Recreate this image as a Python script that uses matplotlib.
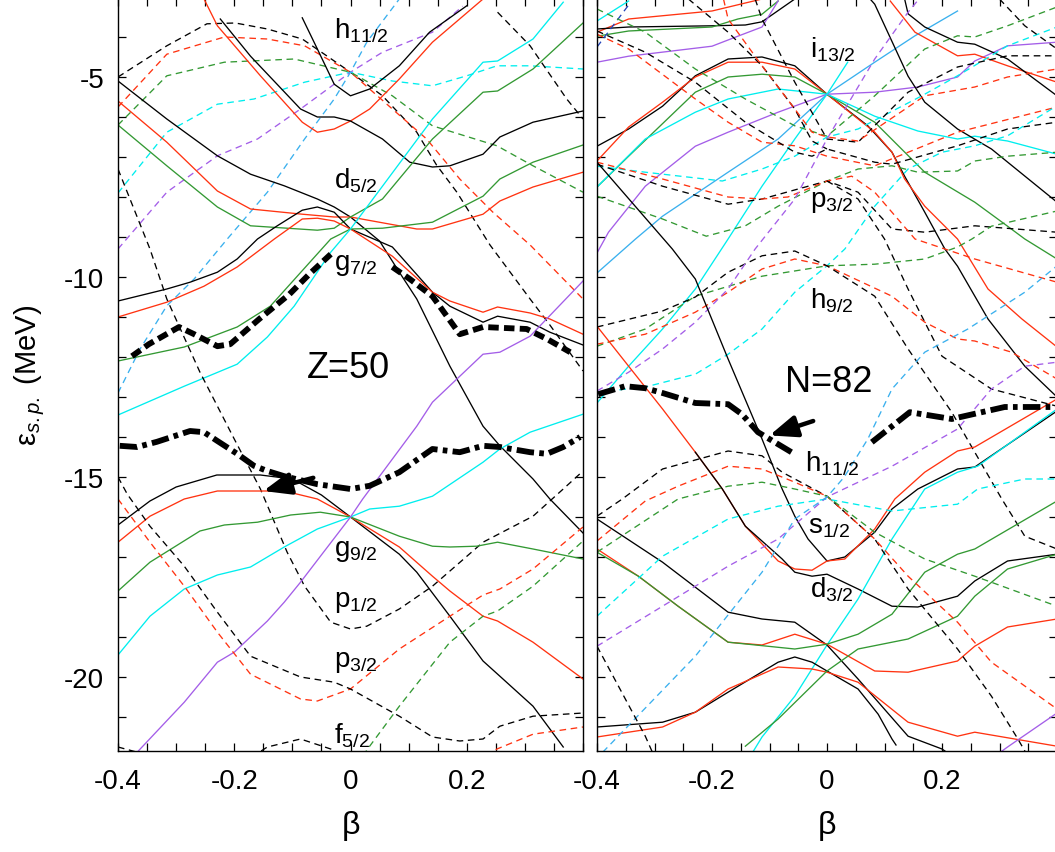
import matplotlib
matplotlib.use("Agg")
import matplotlib.pyplot as plt
from matplotlib.ticker import FixedLocator, MultipleLocator, FuncFormatter

plt.rcParams["font.family"] = ["Liberation Sans", "DejaVu Sans"]
plt.rcParams["mathtext.fontset"] = "custom"
plt.rcParams["mathtext.rm"] = "Liberation Sans"
plt.rcParams["mathtext.it"] = "Liberation Sans:italic"
plt.rcParams["axes.unicode_minus"] = False

K = "black"
R = "#ff3311"
G = "#339933"
C = "#00eeee"
P = "#a45ee8"
S = "#3ab0ee"
B = "#2244bb"

# ---------------- Z = 50 (protons) : beta, e_sp (MeV) ----------------
z01 = ([-0.4, -0.316, -0.247, -0.198, -0.143, -0.083, 0.0, 0.055, 0.114, 0.148, 0.183, 0.24, 0.309, 0.343, 0.4],
       [-5.0, -4.22, -3.67, -3.65, -3.8, -4.05, -4.88, -5.47, -6.38, -7.2, -7.88, -9.2, -10.55, -11.2, -12.35])
z02 = ([-0.4, -0.316, -0.217, -0.143, -0.079, 0.0, 0.072, 0.131, 0.188, 0.245, 0.309, 0.4],
       [-5.75, -4.43, -4.0, -4.05, -4.22, -4.88, -5.8, -6.55, -7.55, -8.38, -9.2, -10.55])
z03 = ([-0.4, -0.316, -0.217, -0.097, 0.0, 0.072, 0.141, 0.252, 0.314, 0.4],
       [-6.2, -4.97, -4.63, -4.55, -4.88, -5.47, -6.22, -6.72, -7.22, -7.88])
z04 = ([-0.4, -0.316, -0.229, -0.166, -0.079, 0.0, 0.072, 0.141, 0.2, 0.252, 0.309, 0.4],
       [-7.9, -6.38, -5.68, -5.55, -5.13, -4.88, -5.1, -5.22, -4.97, -4.72, -4.72, -4.8])
z05 = ([-0.4, -0.316, -0.229, -0.16, -0.086, 0.0, 0.055, 0.141, 0.193],
       [-9.3, -7.88, -6.97, -6.55, -5.8, -4.88, -4.38, -3.88, -3.23])
z06 = ([-0.4, -0.362, -0.316, -0.269, -0.212, -0.143, -0.079, -0.028, 0.0, 0.028, 0.084],
       [-12.9, -11.8, -10.72, -10.05, -9.05, -7.88, -6.55, -5.55, -4.88, -4.13, -3.05])
z07 = ([-0.252, -0.229, -0.155, -0.083, -0.057, -0.028, 0.0, 0.033, 0.084, 0.141, 0.228],
       [-3.05, -3.72, -4.97, -6.13, -6.38, -6.3, -6.1, -5.8, -5.05, -4.13, -3.05])
z08 = ([-0.224, -0.172, -0.086, -0.057, -0.028, 0.0, 0.055, 0.102, 0.141, 0.171, 0.228, 0.257, 0.314, 0.4],
       [-3.55, -4.48, -5.8, -6.0, -6.0, -6.1, -6.55, -7.13, -7.25, -7.22, -6.93, -6.5, -6.13, -5.85])
z09 = ([-0.083, -0.057, -0.028, 0.0, 0.033, 0.084, 0.136, 0.2],
       [-3.52, -4.3, -5.18, -5.47, -5.3, -4.72, -3.88, -3.22])
z10 = ([-0.4, -0.316, -0.229, -0.172, -0.114, -0.057, -0.028, 0.0, 0.05, 0.084, 0.114, 0.171, 0.228, 0.257, 0.314, 0.343, 0.4],
       [-5.1, -6.05, -6.97, -7.43, -7.72, -8.05, -8.25, -8.5, -9.1, -9.88, -10.55, -12.23, -13.73, -14.22, -15.05, -15.55, -16.4])
z11 = ([-0.4, -0.316, -0.229, -0.172, -0.083, -0.028, 0.0, 0.114, 0.141, 0.228, 0.257, 0.314, 0.4],
       [-5.6, -6.63, -7.85, -8.3, -8.43, -8.5, -8.5, -8.8, -8.8, -8.43, -8.1, -7.75, -7.38])
z12 = ([-0.4, -0.316, -0.229, -0.172, -0.057, -0.028, 0.0, 0.055, 0.141, 0.228, 0.253, 0.314, 0.4],
       [-6.2, -7.22, -8.25, -8.72, -8.83, -8.78, -8.5, -8.05, -6.55, -5.38, -5.35, -4.8, -3.65])
z13 = ([-0.4, -0.316, -0.276, -0.229, -0.195, -0.16, -0.126, -0.083, -0.057, -0.028, 0.0, 0.072, 0.141, 0.171, 0.228, 0.253, 0.309, 0.343, 0.4],
       [-10.6, -10.3, -10.13, -9.88, -9.55, -9.05, -8.72, -8.33, -8.25, -8.38, -8.8, -9.25, -10.38, -10.73, -11.13, -10.98, -11.13, -11.38, -11.7])
z14 = ([-0.4, -0.316, -0.252, -0.195, -0.131, -0.083, -0.057, -0.028, 0.0, 0.072, 0.141, 0.171, 0.228, 0.253, 0.309, 0.343, 0.4],
       [-11.0, -10.63, -10.23, -9.75, -9.05, -8.55, -8.53, -8.6, -8.8, -9.48, -10.38, -10.6, -10.88, -10.75, -10.9, -11.05, -11.43])
z15 = ([-0.4, -0.286, -0.195, -0.138, -0.034, 0.0, 0.055, 0.141, 0.228, 0.257, 0.314, 0.4],
       [-12.1, -11.75, -11.25, -10.73, -9.05, -8.8, -8.78, -8.63, -7.98, -7.55, -7.13, -6.7])
z16 = ([-0.4, -0.286, -0.195, -0.143, -0.097, -0.034, 0.0, 0.055, 0.141, 0.228, 0.253, 0.314, 0.366],
       [-13.45, -12.73, -12.18, -11.5, -10.73, -9.38, -8.8, -7.73, -6.05, -4.63, -4.6, -4.05, -3.13])
z17 = ([-0.4, -0.345, -0.316, -0.259, -0.2, -0.155, -0.109, -0.079, -0.034, 0.0, 0.028, 0.084, 0.141, 0.228, 0.314, 0.366, 0.4],
       [-7.3, -9.3, -10.55, -12.38, -14.05, -15.3, -16.88, -17.73, -18.63, -18.8, -18.73, -18.3, -17.73, -16.63, -15.98, -15.3, -14.85])
z18 = ([0.253, 0.309, 0.372, 0.4],
       [-3.38, -4.22, -5.55, -6.05])
z19 = ([-0.4, -0.345, -0.3, -0.23, -0.155, -0.1, -0.05, 0.0, 0.084, 0.114, 0.171, 0.228, 0.257, 0.314, 0.366],
       [-16.2, -15.6, -15.25, -14.95, -14.95, -15.05, -15.45, -16.0, -16.93, -17.38, -18.48, -19.6, -19.98, -20.73, -21.75])
z20 = ([-0.4, -0.345, -0.286, -0.229, -0.114, -0.057, 0.0, 0.084, 0.141, 0.171, 0.228, 0.253, 0.314, 0.4],
       [-16.63, -15.98, -15.55, -15.35, -15.35, -15.55, -16.0, -16.75, -17.48, -17.85, -18.48, -18.6, -19.13, -20.05])
z21 = ([-0.4, -0.345, -0.259, -0.217, -0.16, -0.103, -0.052, 0.0, 0.084, 0.141, 0.171, 0.217, 0.253, 0.314, 0.4],
       [-17.85, -17.13, -16.35, -16.2, -16.13, -15.95, -15.88, -16.0, -16.48, -16.73, -16.75, -16.73, -16.63, -16.8, -17.05])
z22 = ([-0.4, -0.345, -0.286, -0.229, -0.172, -0.114, -0.057, 0.0, 0.033, 0.084, 0.141, 0.228, 0.257, 0.309, 0.4],
       [-19.45, -18.48, -17.8, -17.45, -17.25, -16.75, -16.3, -16.0, -15.8, -15.73, -15.48, -14.63, -14.3, -13.88, -13.43])
z23 = ([-0.367, -0.286, -0.229, -0.2, -0.143, -0.114, -0.086, 0.0, 0.021, 0.114, 0.141, 0.228, 0.257, 0.309, 0.4],
       [-21.88, -20.63, -19.63, -19.38, -18.6, -18.13, -17.63, -16.0, -15.55, -13.73, -13.13, -11.93, -11.88, -11.48, -10.1])
z24 = ([-0.4, -0.345, -0.286, -0.229, -0.172, -0.086, -0.057, 0.0, 0.084, 0.171, 0.228, 0.257, 0.314, 0.4],
       [-15.55, -16.63, -17.73, -18.88, -19.93, -20.55, -20.6, -20.3, -19.3, -18.48, -17.95, -17.8, -17.3, -16.25])
z25 = ([-0.4, -0.384, -0.345, -0.286, -0.229, -0.172, -0.086, -0.028, 0.0, 0.084, 0.141, 0.188, 0.228, 0.257, 0.314, 0.4],
       [-15.0, -15.43, -16.23, -17.23, -18.38, -19.48, -20.0, -20.13, -20.3, -20.98, -21.5, -21.6, -21.55, -21.23, -20.98, -20.9])
z26 = ([0.01, 0.033, 0.084, 0.171, 0.228, 0.253, 0.314, 0.4],
       [-22.2, -21.73, -20.73, -19.13, -18.48, -18.35, -17.73, -16.6])
z27 = ([-0.17, -0.143, -0.086, -0.034, -0.01],
       [-22.0, -21.75, -21.55, -21.8, -22.0])
z28 = ([-0.4, -0.367, -0.34],
       [-21.75, -21.88, -22.0])
z29 = ([0.235, 0.252, 0.314, 0.4],
       [-22.0, -21.8, -21.43, -21.25])

z_gap_a = ([-0.376, -0.347, -0.295, -0.269, -0.229, -0.207, -0.157, -0.105, -0.071, -0.034],
           [-11.98, -11.68, -11.25, -11.43, -11.73, -11.68, -11.05, -10.43, -9.93, -9.43])
z_gap_b = ([0.072, 0.102, 0.141, 0.188, 0.228, 0.303, 0.338, 0.378],
           [-9.75, -10.05, -10.48, -11.43, -11.25, -11.3, -11.55, -11.88])
z_fermi = ([-0.397, -0.367, -0.333, -0.276, -0.252, -0.229, -0.195, -0.166, -0.143, -0.114, -0.057, 0.0, 0.033,
            0.084, 0.141, 0.188, 0.228, 0.257, 0.309, 0.338, 0.366, 0.395],
           [-14.22, -14.25, -14.12, -13.85, -13.88, -14.1, -14.42, -14.72, -14.85, -14.98, -15.18, -15.3, -15.22,
            -14.88, -14.3, -14.38, -14.22, -14.25, -14.38, -14.42, -14.25, -14.0])

# ---------------- N = 82 (neutrons) : beta, e_sp (MeV) ----------------
n01 = ([-0.4, -0.345, -0.2, -0.113], [-3.88, -3.55, -3.35, -3.05])
n02 = ([-0.4, -0.345, -0.2, -0.142, -0.113, -0.056], [-3.8, -3.75, -3.72, -3.7, -3.62, -3.05])
n03 = ([-0.4, -0.345, -0.2, -0.155, -0.113, -0.085], [-3.98, -3.85, -3.75, -3.55, -3.43, -3.1])
n04 = ([-0.4, -0.345, -0.2, -0.155, -0.113, -0.085], [-4.63, -4.48, -4.23, -3.98, -3.75, -3.1])
n05 = ([-0.4, -0.345], [-3.6, -3.1])
n06 = ([-0.4, -0.345], [-4.25, -3.2])
n07 = ([-0.4, -0.345, -0.286, -0.229, -0.172, -0.113, -0.056, 0.0, 0.071, 0.113, 0.135, 0.17, 0.205, 0.227, 0.28, 0.344, 0.4],
       [-6.73, -6.3, -5.73, -4.97, -4.55, -4.5, -4.72, -5.43, -6.22, -6.88, -7.48, -8.38, -9.3, -9.73, -11.05, -12.23, -13.0])
n08 = ([-0.4, -0.345, -0.286, -0.229, -0.172, -0.113, -0.056, 0.0, 0.083, 0.113, 0.135, 0.17, 0.227, 0.28, 0.339, 0.4],
       [-7.1, -6.25, -5.63, -5.0, -4.63, -4.63, -4.8, -5.43, -6.38, -6.88, -7.55, -8.23, -9.05, -10.3, -11.05, -11.75])
n09 = ([-0.4, -0.345, -0.229, -0.172, -0.113, -0.056, 0.0, 0.083, 0.17, 0.257, 0.314, 0.344, 0.4],
       [-7.75, -6.98, -5.38, -5.0, -4.93, -5.0, -5.43, -6.13, -7.38, -8.13, -8.73, -9.05, -9.55])
n10 = ([-0.4, -0.316, -0.229, -0.172, -0.085, 0.0, 0.083, 0.158, 0.227, 0.257, 0.314, 0.4],
       [-7.75, -6.55, -5.88, -5.55, -5.3, -5.43, -5.98, -6.35, -6.55, -6.48, -6.6, -6.93])
n11 = ([-0.4, -0.38, -0.316, -0.229, -0.172, -0.085, 0.0, 0.083, 0.158, 0.227, 0.257, 0.314, 0.4],
       [-9.4, -8.88, -7.73, -6.73, -6.38, -5.88, -5.43, -5.38, -5.25, -5.0, -4.6, -4.22, -4.13])
n12 = ([-0.4, -0.333, -0.286, -0.172, -0.085, 0.0, 0.083, 0.153, 0.227],
       [-9.9, -9.05, -8.48, -7.38, -6.55, -5.43, -4.63, -3.97, -3.35])
n13 = ([-0.4, -0.345, -0.286, -0.229, -0.172, -0.113, -0.056, 0.0, 0.036],
       [-13.15, -12.23, -11.3, -10.3, -9.05, -7.73, -6.55, -5.43, -4.63])
n14 = ([0.075, 0.083, 0.141, 0.17, 0.227, 0.286, 0.4], [-3.05, -3.18, -4.98, -5.63, -6.3, -6.8, -8.13])
n15 = ([0.11, 0.153, 0.227, 0.257, 0.314, 0.4], [-3.1, -3.88, -4.47, -4.43, -4.72, -5.13])
n16 = ([0.135, 0.141, 0.17, 0.227, 0.257, 0.314, 0.4], [-3.05, -3.42, -3.75, -4.13, -4.18, -4.55, -5.47])
n17 = ([-0.4, -0.316, -0.229, -0.142, -0.056, 0.0, 0.083, 0.17, 0.227, 0.257, 0.314, 0.4],
       [-3.3, -3.88, -4.8, -5.55, -6.22, -6.48, -5.47, -4.3, -3.97, -4.0, -3.72, -3.25])
n18 = ([-0.4, -0.316, -0.182, -0.113, -0.056, 0.0, 0.054, 0.165, 0.227, 0.314, 0.4],
       [-7.23, -7.38, -7.6, -7.3, -6.98, -6.5, -6.3, -5.47, -4.97, -4.22, -3.75])
n19 = ([-0.125, -0.113, -0.056, 0.0, 0.054, 0.141, 0.227, 0.314, 0.4],
       [-3.05, -3.55, -5.13, -6.55, -6.63, -5.38, -4.75, -4.47, -4.47])
n20 = ([-0.241, -0.172, -0.113, -0.056, -0.026, 0.0],
       [-3.05, -3.88, -4.72, -5.8, -6.6, -6.8])
n21 = ([-0.18, -0.172, -0.113, -0.056, -0.026, 0.0, 0.054, 0.17, 0.257, 0.314, 0.4],
       [-3.05, -3.55, -4.72, -5.8, -6.38, -6.5, -6.6, -5.47, -5.25, -5.0, -4.8])
n22 = ([-0.4, -0.345, -0.229, -0.172, -0.113, -0.056, 0.0, 0.083, 0.227, 0.4],
       [-3.93, -4.3, -5.55, -6.13, -6.63, -6.72, -6.98, -7.22, -6.38, -5.75])
n23 = ([-0.4, -0.316, -0.229, -0.142, -0.056, -0.026, 0.0, 0.083, 0.113, 0.227, 0.314, 0.4],
       [-3.85, -4.38, -5.13, -6.13, -6.88, -6.98, -6.8, -7.13, -7.18, -6.72, -6.3, -6.13])
n24 = ([-0.4, -0.316, -0.229, -0.172, -0.113, -0.056, 0.0, 0.031, 0.083, 0.141, 0.2, 0.257, 0.314, 0.4],
       [-12.88, -12.75, -12.43, -11.93, -11.3, -10.38, -9.72, -9.3, -8.23, -7.3, -6.88, -6.72, -6.47, -5.72])
n25 = ([-0.4, -0.286, -0.21, -0.142, -0.085, 0.0, 0.054, 0.113, 0.158, 0.227, 0.257, 0.314, 0.4],
       [-7.98, -8.55, -8.98, -8.72, -8.23, -7.6, -7.3, -7.22, -7.38, -7.35, -7.1, -6.98, -6.88])
n26 = ([-0.4, -0.286, -0.172, -0.113, 0.0, 0.054, 0.113, 0.17, 0.257, 0.4],
       [-7.18, -7.73, -8.18, -8.05, -7.6, -7.88, -8.8, -8.88, -8.72, -8.88])
n27 = ([-0.4, -0.286, -0.172, -0.113, -0.068, 0.0, 0.043, 0.083, 0.153, 0.257, 0.4],
       [-7.13, -7.55, -8.0, -8.05, -8.0, -7.6, -7.48, -7.88, -9.05, -9.55, -10.13])
n28 = ([0.0, 0.054, 0.1, 0.141, 0.2, 0.286, 0.4],
       [-7.6, -8.05, -9.05, -10.3, -11.98, -12.8, -13.23])
n29 = ([-0.4, -0.316, -0.229, -0.113, 0.0, 0.083, 0.17, 0.227, 0.252, 0.286, 0.4],
       [-11.73, -11.3, -10.48, -9.98, -9.72, -9.68, -9.55, -9.25, -9.05, -8.73, -8.35])
n30 = ([-0.4, -0.316, -0.229, -0.172, -0.113, -0.056, 0.0, 0.113, 0.17, 0.227, 0.257, 0.321, 0.4],
       [-11.68, -11.43, -10.88, -10.38, -9.8, -9.55, -9.72, -10.48, -11.13, -11.55, -11.6, -11.88, -12.55])
n31 = ([-0.4, -0.286, -0.229, -0.172, -0.113, -0.056, 0.0, 0.083, 0.141, 0.217, 0.257, 0.304, 0.344, 0.4],
       [-11.25, -10.85, -10.5, -9.88, -9.47, -9.35, -9.72, -10.48, -11.8, -13.38, -14.38, -15.55, -16.48, -16.8])
n32 = ([-0.4, -0.345, -0.286, -0.229, -0.172, -0.125, -0.056, 0.0, 0.083, 0.141, 0.16],
       [-12.85, -12.38, -11.8, -11.13, -10.3, -9.3, -8.05, -6.55, -4.55, -3.38, -3.05])
n33 = ([0.3, 0.344, 0.4], [-3.05, -3.72, -4.3])
n34 = ([-0.4, -0.269, -0.229, -0.172, -0.113, -0.078, -0.056, -0.033, 0.0, 0.031, 0.083, 0.113, 0.158, 0.227, 0.257, 0.4],
       [-7.13, -9.3, -10.05, -12.05, -14.05, -15.3, -15.98, -16.55, -17.1, -17.0, -16.38, -15.8, -15.3, -14.8, -14.75, -13.35])
n35 = ([-0.4, -0.345, -0.286, -0.229, -0.182, -0.142, -0.085, -0.056, -0.026, 0.0, 0.031, 0.083, 0.118, 0.17, 0.227, 0.257, 0.4],
       [-11.23, -12.23, -13.3, -14.38, -15.3, -16.23, -17.1, -17.3, -17.33, -17.1, -17.05, -16.3, -15.55, -14.88, -14.35, -14.25, -13.05])
n36 = ([-0.229, -0.182, -0.142, -0.078, -0.056, -0.026, 0.0, 0.054, 0.113, 0.158, 0.227, 0.257, 0.314, 0.4],
       [-14.38, -15.3, -16.23, -17.05, -17.38, -17.48, -17.43, -17.8, -18.23, -18.25, -17.98, -17.6, -17.1, -16.93])
n37 = ([-0.13, -0.113, -0.056, 0.0, 0.054, 0.113, 0.17, 0.227, 0.262, 0.4],
       [-21.9, -21.5, -20.48, -19.2, -18.05, -16.55, -15.3, -14.88, -14.73, -13.3])
n38 = ([-0.4, -0.286, -0.172, -0.113, -0.056, 0.0, 0.054, 0.141, 0.2, 0.22],
       [-16.05, -17.13, -18.38, -18.55, -18.63, -19.2, -20.05, -21.48, -21.8, -22.0])
n39 = ([-0.4, -0.328, -0.259, -0.172, -0.113, -0.056, 0.0, 0.083, 0.141, 0.227, 0.257, 0.314, 0.4],
       [-16.8, -17.48, -18.23, -19.13, -19.2, -18.93, -19.18, -19.85, -19.88, -19.6, -19.23, -18.75, -18.55])
n40 = ([-0.4, -0.328, -0.259, -0.172, -0.056, 0.0, 0.054, 0.113, 0.17, 0.227, 0.257, 0.4],
       [-16.88, -17.48, -18.23, -19.13, -19.3, -19.18, -18.93, -18.43, -17.38, -16.93, -16.8, -15.6])
n41 = ([-0.4, -0.286, -0.229, -0.172, -0.085, -0.056, -0.026, 0.0, 0.054, 0.089, 0.113, 0.12],
       [-21.25, -21.13, -20.88, -20.38, -19.63, -19.5, -19.63, -19.85, -20.3, -20.93, -21.55, -21.7])
n42 = ([-0.4, -0.286, -0.229, -0.172, -0.085, -0.026, 0.0, 0.054, 0.141, 0.227, 0.257, 0.4],
       [-21.5, -21.25, -20.88, -20.3, -19.75, -19.8, -19.88, -20.13, -21.13, -21.48, -21.38, -21.73])
n43 = ([-0.142, -0.085, 0.0, 0.054, 0.141, 0.227, 0.257, 0.314, 0.4],
       [-21.73, -21.05, -19.85, -19.3, -19.05, -18.48, -17.98, -17.3, -16.93])
n44 = ([-0.4, -0.356, -0.286, -0.172, -0.113, -0.078, 0.0, 0.083, 0.141, 0.227, 0.286, 0.332, 0.35],
       [-15.98, -15.55, -14.8, -14.35, -14.47, -14.88, -15.48, -16.55, -17.8, -19.3, -20.48, -21.55, -22.0])
n45 = ([-0.4, -0.316, -0.259, -0.172, -0.113, -0.056, 0.0, 0.083, 0.141, 0.227, 0.286, 0.4],
       [-16.6, -15.6, -15.23, -14.73, -14.8, -15.13, -15.48, -16.55, -17.48, -18.63, -19.63, -20.8])
n46 = ([-0.4, -0.259, -0.172, -0.113, -0.056, 0.0, 0.083, 0.17, 0.257, 0.4],
       [-16.88, -15.55, -15.23, -15.13, -15.3, -15.48, -16.38, -17.05, -17.48, -18.23])
n47 = ([-0.4, -0.286, -0.172, -0.085, 0.0, 0.113, 0.227, 0.262, 0.344, 0.4],
       [-18.48, -16.98, -16.05, -15.73, -15.55, -15.85, -15.68, -15.3, -15.05, -15.05])
n48 = ([-0.4, -0.286, -0.172, -0.085, 0.0, 0.113, 0.227, 0.286, 0.344, 0.4],
       [-19.23, -18.23, -17.23, -16.55, -15.5, -14.73, -13.8, -12.8, -12.23, -12.13])
n49 = ([-0.39, -0.229, -0.113, -0.056, 0.0, 0.03, 0.071, 0.113, 0.17, 0.245, 0.344, 0.4],
       [-21.88, -19.48, -17.38, -16.05, -15.5, -15.0, -14.05, -12.8, -11.88, -11.3, -10.38, -9.72])
n50 = ([-0.4, -0.316, -0.3], [-19.23, -21.48, -22.0])
n51 = ([0.29, 0.314, 0.4], [-22.0, -21.75, -20.9])

n_fermi_a = ([-0.398, -0.351, -0.316, -0.286, -0.229, -0.172, -0.148, -0.12, -0.056],
             [-12.93, -12.73, -12.78, -12.9, -13.15, -13.18, -13.43, -13.88, -14.43])
n_fermi_b = ([0.078, 0.144, 0.217, 0.309, 0.4],
             [-14.13, -13.38, -13.55, -13.25, -13.25])

z_curves = [
    (z01, K, "--"), (z02, R, "--"), (z03, G, "--"), (z04, C, "--"), (z05, P, "--"), (z06, S, "--"),
    (z07, R, "-"), (z08, K, "-"), (z09, K, "-"), (z10, K, "-"), (z11, R, "-"), (z12, G, "-"),
    (z13, K, "-"), (z14, R, "-"), (z15, G, "-"), (z16, C, "-"), (z17, K, "--"), (z18, K, "--"),
    (z19, K, "-"), (z20, R, "-"), (z21, G, "-"), (z22, C, "-"), (z23, P, "-"),
    (z24, R, "--"), (z25, K, "--"), (z26, G, "--"), (z27, K, "--"), (z28, K, "--"), (z29, R, "--"),
]
n_curves = [
    (n01, R, "-"), (n02, K, "-"), (n03, G, "-"), (n04, P, "-"), (n05, C, "-"), (n06, B, "--"),
    (n07, K, "-"), (n08, R, "-"), (n09, G, "-"), (n10, C, "-"), (n11, P, "-"), (n12, S, "-"),
    (n13, C, "-"), (n14, K, "-"), (n15, R, "-"), (n16, K, "-"),
    (n17, G, "--"), (n18, C, "--"), (n19, K, "--"), (n20, K, "--"), (n21, R, "--"), (n22, R, "--"),
    (n23, K, "--"), (n24, C, "--"), (n25, G, "--"), (n26, K, "--"), (n27, R, "--"), (n28, K, "--"),
    (n29, G, "--"), (n30, R, "--"), (n31, K, "--"), (n32, P, "--"), (n33, K, "--"),
    (n34, K, "-"), (n35, R, "-"), (n36, K, "-"), (n37, C, "-"), (n38, K, "-"), (n39, R, "-"),
    (n40, G, "-"), (n41, K, "-"), (n42, R, "-"), (n43, G, "-"),
    (n44, K, "--"), (n45, R, "--"), (n46, G, "--"), (n47, C, "--"), (n48, P, "--"), (n49, S, "--"),
    (n50, K, "--"), (n51, P, "-"),
]


def draw(ax, curves):
    for (b, e), col, ls in curves:
        if ls == "-":
            ax.plot(b, e, color=col, lw=0.95)
        else:
            ax.plot(b, e, color=col, lw=0.95, dashes=(5, 3.5))


def fmt_x(v, pos):
    if abs(v - 0.4) < 1e-6:
        return ""
    if abs(v) < 1e-6:
        return "0"
    return f"{v:.1f}"


W, H = 1055, 853
fig = plt.figure(figsize=(W / 100, H / 100), dpi=100)
axL = fig.add_axes([118 / W, 1 - 752 / H, 465 / W, 753 / H])
axR = fig.add_axes([597 / W, 1 - 752 / H, 460 / W, 753 / H])

for ax in (axL, axR):
    ax.set_xlim(-0.4, 0.4)
    ax.set_ylim(-21.85, -3.025)
    ax.xaxis.set_major_locator(FixedLocator([-0.4, -0.2, 0.0, 0.2, 0.4]))
    ax.xaxis.set_minor_locator(MultipleLocator(0.05))
    ax.xaxis.set_major_formatter(FuncFormatter(fmt_x))
    ax.yaxis.set_major_locator(FixedLocator([-5, -10, -15, -20]))
    ax.yaxis.set_minor_locator(MultipleLocator(1))
    ax.tick_params(which="both", direction="in", top=True, right=True, length=6, width=0.9,
                   labelsize=20)
    ax.tick_params(axis="x", which="major", pad=12)
    ax.tick_params(axis="y", which="major", pad=10)
    for sp in ax.spines.values():
        sp.set_linewidth(1.0)
    ax.set_xlabel("β", fontsize=23, labelpad=12)

axR.tick_params(axis="y", labelleft=False)
axL.set_ylabel("ε$_{\\mathit{s.p.}}$ (MeV)", fontsize=21, labelpad=12)

draw(axL, z_curves)
draw(axR, n_curves)

axL.plot(*z_gap_a, color=K, lw=4.2, dashes=(1.8, 0.9))
axL.plot(*z_gap_b, color=K, lw=4.2, dashes=(1.8, 0.9))
axL.plot(*z_fermi, color=K, lw=4.2, dashes=(3.0, 0.9, 0.8, 0.9))
axR.plot(*n_fermi_a, color=K, lw=4.2, dashes=(3.0, 0.9, 0.8, 0.9))
axR.plot(*n_fermi_b, color=K, lw=4.2, dashes=(3.0, 0.9, 0.8, 0.9))

arrow = dict(arrowstyle="-|>,head_length=0.55,head_width=0.22", lw=3.2, color=K,
             mutation_scale=30, shrinkA=0, shrinkB=0)
axL.annotate("", xy=(-0.15, -15.35), xytext=(-0.064, -15.02), arrowprops=arrow)
axR.annotate("", xy=(-0.1, -13.96), xytext=(-0.024, -13.6), arrowprops=arrow)

lab = dict(fontsize=20, va="baseline", ha="left")
axL.text(-0.028, -4.0, "h$_\\mathregular{11/2}$", **lab)
axL.text(-0.028, -7.75, "d$_\\mathregular{5/2}$", **lab)
axL.text(-0.028, -9.8, "g$_\\mathregular{7/2}$", **lab)
axL.text(-0.075, -12.5, "Z=50", fontsize=26, va="baseline", ha="left")
axL.text(-0.028, -16.95, "g$_\\mathregular{9/2}$", **lab)
axL.text(-0.028, -18.23, "p$_\\mathregular{1/2}$", **lab)
axL.text(-0.028, -19.73, "p$_\\mathregular{3/2}$", **lab)
axL.text(-0.028, -21.63, "f$_\\mathregular{5/2}$", **lab)

axR.text(-0.03, -4.48, "i$_\\mathregular{13/2}$", **lab)
axR.text(-0.03, -8.23, "p$_\\mathregular{3/2}$", **lab)
axR.text(-0.03, -10.75, "h$_\\mathregular{9/2}$", **lab)
axR.text(-0.073, -12.85, "N=82", fontsize=26, va="baseline", ha="left")
axR.text(-0.038, -14.85, "h$_\\mathregular{11/2}$", **lab)
axR.text(-0.033, -16.38, "s$_\\mathregular{1/2}$", **lab)
axR.text(-0.03, -18.0, "d$_\\mathregular{3/2}$", **lab)

fig.savefig("out.png", dpi=100)
